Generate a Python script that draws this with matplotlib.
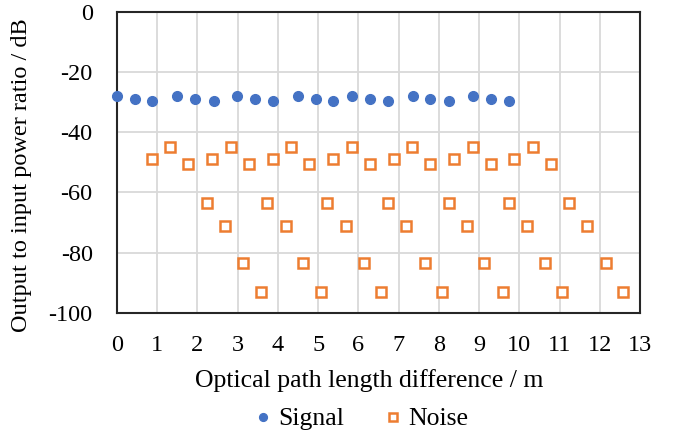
import matplotlib
matplotlib.use("Agg")
import matplotlib.pyplot as plt

plt.rcParams['font.family'] = ['Liberation Serif', 'DejaVu Serif']

signal_x = [0.0, 0.44, 0.88, 1.49, 1.95, 2.40, 2.99, 3.43, 3.89, 4.50, 4.94, 5.38,
            5.85, 6.29, 6.74, 7.35, 7.79, 8.24, 8.84, 9.30, 9.75]
signal_y = [-28.0, -29.0, -29.8, -28.0, -29.0, -29.8, -28.0, -29.0, -29.8, -28.0, -29.0, -29.8,
            -28.0, -29.0, -29.8, -28.0, -29.0, -29.8, -28.0, -29.0, -29.8]

noise_x = [0.88, 1.32, 1.77, 2.36, 2.83, 3.28, 3.87, 4.32, 4.78, 5.38, 5.83, 6.29,
           6.88, 7.34, 7.78, 8.38, 8.84, 9.29, 9.88, 10.34, 10.79,
           2.23, 2.68, 3.13, 3.59, 3.72, 4.19, 4.63, 5.07, 5.23, 5.70, 6.14, 6.57,
           6.74, 7.19, 7.65, 8.08, 8.25, 8.70, 9.13, 9.59, 9.74, 10.19, 10.64, 11.07,
           11.24, 11.68, 12.15, 12.58]
noise_y = [-48.8, -44.8, -50.6] * 7 + [-63.6, -71.0, -83.4, -92.9] * 7

x_ticks = list(range(0, 14))
y_ticks = [0, -20, -40, -60, -80, -100]

fig = plt.figure(figsize=(6.78, 4.34), dpi=100)
ax = fig.add_axes([117/678, 1-313/434, (640-117)/678, (313-11.5)/434])

ax.plot(signal_x, signal_y, linestyle='none', marker='o', markersize=7,
        color='#4472C4', label='Signal', zorder=3, clip_on=False)
ax.plot(noise_x, noise_y, linestyle='none', marker='s', markersize=6.5,
        markerfacecolor='white', markeredgecolor='#ED7D31', markeredgewidth=1.8,
        label='Noise', zorder=3, clip_on=False)

ax.set_xlim(0, 13)
ax.set_ylim(-100, 0)
ax.set_xticks(x_ticks)
ax.set_yticks(y_ticks)
ax.set_xticklabels([str(t) for t in x_ticks])
ax.set_yticklabels([str(t) for t in y_ticks])
ax.tick_params(axis='both', length=0, labelsize=17.5, colors='black')
ax.tick_params(axis='y', pad=17.5)
ax.tick_params(axis='x', pad=16)
ax.grid(True, color='#d9d9d9', linewidth=1.3)
ax.set_axisbelow(True)
for s in ax.spines.values():
    s.set_color('#262626')
    s.set_linewidth(1.5)

fig.text(369/678, 1-381/434, 'Optical path length difference / m', ha='center', va='center', fontsize=18.5)
fig.text(22/678, 1-175/434, 'Output to input power ratio / dB', ha='center', va='center',
         rotation=90, fontsize=17.5)

fig.legend(loc='center', bbox_to_anchor=(359/678, 1-419/434), ncol=2, frameon=False,
           prop={'family': 'Liberation Serif', 'size': 18.5}, handletextpad=0.1,
           columnspacing=1.4, markerscale=0.8, handlelength=1.0, borderpad=0)

fig.savefig('out.png', dpi=100)
